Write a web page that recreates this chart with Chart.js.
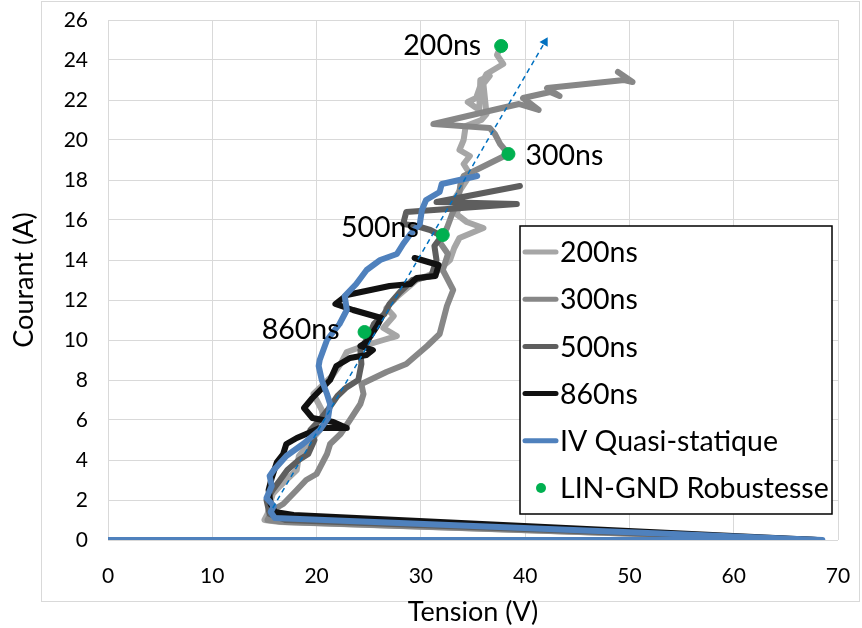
<!DOCTYPE html>
<html>
<head>
<meta charset="utf-8">
<script src="https://cdn.jsdelivr.net/npm/chart.js@4/dist/chart.umd.min.js"></script>
<style>
html,body{margin:0;padding:0;background:#fff;}
canvas{display:block;}
</style>
</head>
<body>
<canvas id="c" width="862" height="628"></canvas>
<script>
// ---- data (Tension V, Courant A) ----
const s200 = [[0,0],[68,0],[16.5,0.9],[15,1.0],[15.3,1.3],[15.5,1.8],[15.8,2.3],[16.5,2.7],[17.5,3.2],[18.1,3.5],[18.3,4.2],[19.2,4.8],[20,5.3],[20.8,5.8],[20.5,6.5],[19.7,7.3],[20.5,7.7],[21.5,8.2],[22.3,8.8],[22.9,9.4],[24.5,9.7],[26.4,10.0],[27.7,10.2],[26.4,10.6],[27.4,11.2],[26.7,11.6],[27.8,12.2],[29.6,13.0],[31.5,13.4],[32.8,14.0],[33.2,14.6],[33.7,15.1],[36.0,15.6],[34.4,15.9],[33.4,16.3],[33.8,16.8],[33.4,17.2],[34.4,18.0],[34.7,18.3],[34.1,18.8],[34.7,19.2],[33.7,19.5],[34.1,20.0],[34.3,20.7],[35.8,21.0],[36.3,21.3],[36.0,22.8],[36.6,23.2],[35.7,23.0],[35.6,21.5],[34.5,21.9],[35.3,22.1],[35.7,22.7],[36.3,23.3],[37.9,23.8],[37.3,24.25],[37.6,24.6]];
const s300 = [[0,0],[68,0],[17,0.9],[15.3,1.0],[15.8,1.5],[16.8,1.8],[18.1,2.5],[19.0,3.0],[20.0,3.3],[21.0,4.3],[21.3,4.8],[22.3,5.3],[23.2,6.0],[24.2,6.8],[24.5,7.3],[24.3,7.8],[25.5,8.1],[26.7,8.4],[28.6,8.8],[30.6,9.7],[31.8,10.3],[32.5,11.7],[33.1,12.5],[32.5,13.1],[32.1,13.5],[32.6,14.3],[31.8,14.9],[32.5,15.6],[33.0,16.3],[33.6,17.0],[33.8,17.8],[34.1,18.2],[35.3,18.5],[38.4,19.3],[37.6,19.8],[37.1,20.3],[36.6,20.6],[31.2,20.8],[39.4,21.8],[41.3,21.5],[39.8,22.1],[42.4,22.4],[43.3,22.2],[42.1,22.6],[49.5,23.0],[50.3,22.9],[48.9,23.4]];
const s500 = [[0,0],[68,0],[17,1.0],[15.5,1.3],[15.2,2.0],[15.8,2.5],[16.5,3.0],[17.2,3.5],[18.3,4.0],[19.2,4.3],[19.8,5.0],[19.4,5.5],[20.3,6.0],[21.2,6.6],[22.0,7.2],[22.8,7.6],[24.0,8.0],[24.3,8.8],[24.2,9.5],[25.0,10.2],[25.5,10.8],[26.5,11.3],[27.0,11.8],[28.0,12.4],[29.2,13.0],[31.0,13.2],[31.5,14.0],[31.3,14.7],[32.0,15.2],[30.9,15.5],[29.6,15.7],[28.3,15.8],[28.6,16.4],[39.2,16.8],[31.5,16.9],[39.5,17.7]];
const s860 = [[0,0],[68,0],[17.8,1.25],[16,1.4],[15.6,1.8],[15.4,2.5],[15.7,3.1],[16.2,3.9],[16.8,4.3],[17.1,4.8],[18.1,5.1],[19.0,5.3],[20.3,5.6],[22.9,5.6],[21.6,5.9],[19.6,6.1],[18.8,6.6],[19.6,7.1],[21.3,8.0],[21.9,8.7],[23.2,9.1],[24.8,9.25],[25.4,9.5],[24.2,9.7],[24.8,9.9],[25.8,10.7],[26.2,11.1],[23.5,11.5],[21.8,11.8],[22.9,12.25],[27.0,12.7],[29.0,12.8],[29.6,13.1],[31.4,13.2],[31.7,13.75],[29.4,14.1]];
const sQS = [[0,0],[68.5,0],[16,1.1],[15.6,1.4],[15.9,1.7],[15.2,2.1],[15.7,2.7],[15.5,3.2],[15.9,3.5],[17.1,4.2],[18.7,4.8],[20.3,5.5],[21.1,6.1],[21.3,6.8],[21.0,7.3],[20.5,8.0],[20.2,8.7],[20.3,9.0],[21.0,10.0],[22.2,10.8],[22.9,11.5],[22.7,12.2],[23.8,12.8],[24.8,13.5],[26.1,14.0],[27.7,14.3],[28.3,14.8],[29.0,15.3],[29.9,15.8],[30.1,16.5],[30.5,17.0],[31.8,17.4],[32.0,17.8],[33.7,18.0],[35.4,18.2]];
const robustX = [37.7, 38.4, 32.1, 24.6];
const robustY = [24.7, 19.3, 15.25, 10.4];
const robustLabels = ['200ns', '300ns', '500ns', '860ns'];
const trendX = [15.8, 41.9];
const trendY = [1.6, 24.9];
const seriesNames = ['200ns', '300ns', '500ns', '860ns', 'IV Quasi-statique', 'LIN-GND Robustesse'];
const xTicks = [0, 10, 20, 30, 40, 50, 60, 70];
const yTicks = [0, 2, 4, 6, 8, 10, 12, 14, 16, 18, 20, 22, 24, 26];

const FONT = 'Lato, "Open Sans", sans-serif';
const AREA = { left: 108, right: 838, top: 20, bottom: 540 };
const toPts = a => a.map(p => ({x: p[0], y: p[1]}));
const lineDs = (label, data, color, order) => ({
  label, data: toPts(data), showLine: true, borderColor: color, backgroundColor: color,
  borderWidth: 6, pointRadius: 0, tension: 0, order,
  borderJoinStyle: 'round', borderCapStyle: 'round'
});

const datasets = [
  lineDs(seriesNames[0], s200, '#A6A6A6', 7),
  lineDs(seriesNames[1], s300, '#878787', 6),
  lineDs(seriesNames[2], s500, '#5E5E5E', 5),
  lineDs(seriesNames[3], s860, '#111111', 4),
  lineDs(seriesNames[4], sQS, '#4F81BD', 3),
  {
    label: seriesNames[5], data: robustX.map((x, i) => ({x, y: robustY[i]})),
    showLine: false, pointRadius: 6.5, pointBackgroundColor: '#00B050', pointBorderColor: '#00B050',
    backgroundColor: '#00B050', borderColor: '#00B050', order: 1
  },
  {
    label: 'trend', data: trendX.map((x, i) => ({x, y: trendY[i]})),
    showLine: true, borderColor: '#0070C0', borderWidth: 1.5, borderDash: [5, 4],
    pointRadius: [0, 5.5], pointStyle: 'triangle', pointRotation: 30,
    pointBackgroundColor: '#0070C0', pointBorderColor: '#0070C0', pointBorderWidth: 0, order: 2
  }
];

const areaPlugin = {
  id: 'fixArea',
  afterLayout(chart) {
    const ca = chart.chartArea;
    ca.left = AREA.left; ca.right = AREA.right; ca.top = AREA.top; ca.bottom = AREA.bottom;
    ca.width = AREA.right - AREA.left; ca.height = AREA.bottom - AREA.top;
    const x = chart.scales.x, y = chart.scales.y;
    x.left = AREA.left; x.right = AREA.right; x.width = ca.width;
    x.top = AREA.bottom; x.bottom = chart.height; x.height = x.bottom - x.top;
    y.left = 0; y.right = AREA.left; y.width = AREA.left;
    y.top = AREA.top; y.bottom = AREA.bottom; y.height = ca.height;
    x.configure(); y.configure();
  }
};

const framePlugin = {
  id: 'frame',
  beforeDraw(chart) {
    const ctx = chart.ctx;
    ctx.save();
    ctx.fillStyle = '#fff';
    ctx.fillRect(0, 0, chart.width, chart.height);
    ctx.strokeStyle = '#D9D9D9';
    ctx.lineWidth = 1;
    ctx.strokeRect(41.5, 1.5, 818, 600);
    ctx.restore();
  }
};

const labelPlugin = {
  id: 'robustLabels',
  afterDatasetsDraw(chart) {
    const meta = chart.getDatasetMeta(5);
    const ctx = chart.ctx;
    ctx.save();
    ctx.font = '28.5px ' + FONT;
    ctx.fillStyle = '#000';
    ctx.textBaseline = 'middle';
    const place = [
      {dx: -20, dy: 0, align: 'right'},
      {dx: 17, dy: 2, align: 'left'},
      {dx: -24, dy: -7, align: 'right'},
      {dx: -25, dy: -2, align: 'right'}
    ];
    meta.data.forEach((pt, i) => {
      ctx.textAlign = place[i].align;
      ctx.fillText(robustLabels[i], pt.x + place[i].dx, pt.y + place[i].dy);
    });
    ctx.restore();
  }
};

const legendPlugin = {
  id: 'customLegend',
  afterDraw(chart) {
    const ctx = chart.ctx;
    const bx = 520, by = 226, bw = 312, bh = 288;
    ctx.save();
    ctx.fillStyle = '#fff';
    ctx.fillRect(bx, by, bw, bh);
    ctx.strokeStyle = '#000';
    ctx.lineWidth = 1.5;
    ctx.strokeRect(bx, by, bw, bh);
    ctx.font = '28.5px ' + FONT;
    ctx.textBaseline = 'middle';
    ctx.textAlign = 'left';
    const rowH = 47.2, y0 = 252;
    for (let i = 0; i < 6; i++) {
      const ds = chart.data.datasets[i];
      const y = y0 + i * rowH;
      if (i < 5) {
        ctx.strokeStyle = ds.borderColor;
        ctx.lineWidth = 5;
        ctx.lineCap = 'round';
        ctx.beginPath();
        ctx.moveTo(525, y);
        ctx.lineTo(556, y);
        ctx.stroke();
      } else {
        ctx.fillStyle = ds.pointBackgroundColor;
        ctx.beginPath();
        ctx.arc(541, y, 5, 0, Math.PI * 2);
        ctx.fill();
      }
      ctx.fillStyle = '#000';
      ctx.fillText(ds.label, 560, y + 1);
    }
    ctx.restore();
  }
};

new Chart(document.getElementById('c'), {
  type: 'scatter',
  data: { datasets },
  options: {
    responsive: false,
    animation: false,
    layout: { padding: { left: 0, top: 20, right: 24, bottom: 0 } },
    plugins: {
      legend: { display: false },
      tooltip: { enabled: false }
    },
    scales: {
      x: {
        type: 'linear', min: 0, max: 70,
        afterBuildTicks: s => { s.ticks = xTicks.map(v => ({value: v})); },
        afterFit: s => { s.height = 88; },
        grid: { color: '#D9D9D9', lineWidth: 1, drawTicks: false },
        border: { display: false },
        ticks: { font: { family: FONT, size: 21 }, color: '#000', padding: 24 },
        title: { display: true, text: 'Tension (V)', font: { family: FONT, size: 27 }, color: '#000', padding: { top: 0, bottom: 0 } }
      },
      y: {
        type: 'linear', min: 0, max: 26,
        afterBuildTicks: s => { s.ticks = yTicks.map(v => ({value: v})); },
        afterFit: s => { s.width = 108; },
        grid: { color: '#D9D9D9', lineWidth: 1, drawTicks: false },
        border: { display: false },
        ticks: { font: { family: FONT, size: 21 }, color: '#000', padding: 20 },
        title: { display: true, text: 'Courant (A)', font: { family: FONT, size: 27 }, color: '#000', padding: { top: 8, bottom: 0 } }
      }
    }
  },
  plugins: [areaPlugin, framePlugin, labelPlugin, legendPlugin]
});
</script>
</body>
</html>
